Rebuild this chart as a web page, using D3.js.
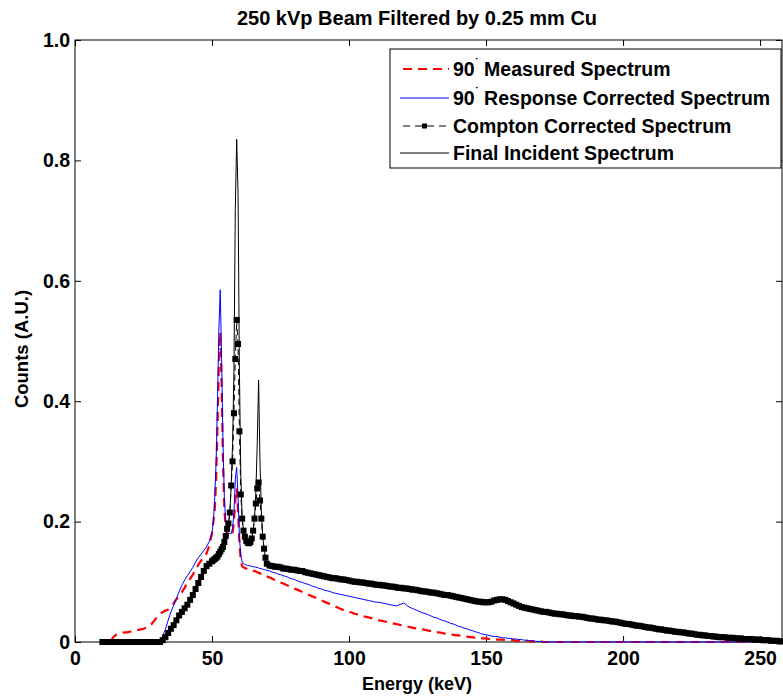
<!DOCTYPE html>
<html><head><meta charset="utf-8">
<script src="https://cdn.jsdelivr.net/npm/d3@7"></script>
<style>
html,body{margin:0;padding:0;background:#fff;}
text{font-family:"Liberation Sans",Arial,sans-serif;}
</style></head>
<body>
<svg id="chart" width="783" height="696"></svg>
<script>
// ---------------- DATA ----------------
const chartTitle = "250 kVp Beam Filtered by 0.25 mm Cu";
const xLabel = "Energy (keV)";
const yLabel = "Counts (A.U.)";
const xTicks = [0, 50, 100, 150, 200, 250];
const yTicks = [0, 0.2, 0.4, 0.6, 0.8, 1.0];
const yTickLabels = ["0", "0.2", "0.4", "0.6", "0.8", "1.0"];
const seriesNames = ["Measured Spectrum", "Response Corrected Spectrum", "Compton Corrected Spectrum", "Final Incident Spectrum"];
const seriesPrefix = ["90", "90", "", ""];

const energy = [
 10,11,12,13,14,15,16,17,18,19, 20,21,22,23,24,25,26,27,28,29, 30,31,32,33,34,35,36,37,38,39, 40,41,42,43,44,45,46,47,48,49, 50,
 50.5,51,51.5,52,52.5,53,53.5,54,54.5,55, 55.5,56,56.5,57,57.5,58,58.5,59,59.5,60, 60.5,61,61.5,62,62.5,63,63.5,64,64.5,65, 65.5,66,66.5,67,67.5,68,68.5,69,69.5,70,
 71,72,73,74,75,76,77,78,79,80, 81,82,83,84,85,86,87,88,89,90, 91,92,93,94,95,96,97,98,99,100,
 101,102,103,104,105,106,107,108,109,110, 111,112,113,114,115,116,117,118,119,120, 121,122,123,124,125,126,127,128,129,130,
 131,132,133,134,135,136,137,138,139,140, 141,142,143,144,145,146,147,148,149,150, 151,152,153,154,155,156,157,158,159,160,
 161,162,163,164,165,166,167,168,169,170, 171,172,173,174,175,176,177,178,179,180, 181,182,183,184,185,186,187,188,189,190,
 191,192,193,194,195,196,197,198,199,200, 201,202,203,204,205,206,207,208,209,210, 211,212,213,214,215,216,217,218,219,220,
 221,222,223,224,225,226,227,228,229,230, 231,232,233,234,235,236,237,238,239,240, 241,242,243,244,245,246,247,248,249,250,
 251,252,253,254,255,256,257,258
];

const measured = [
 null,null,null,0.002,0.008,0.012,0.014,0.015,0.016,0.016, 0.017,0.018,0.019,0.02,0.021,0.022,0.024,0.026,0.03,0.036,
 0.042,0.046,0.05,0.052,0.054,0.058,0.064,0.071,0.077,0.083, 0.09,0.098,0.105,0.112,0.12,0.128,0.135,0.141,0.147,0.16, 0.18,
 0.2,0.22,0.27,0.36,0.46,0.515,0.43,0.3,0.22,0.19, 0.18,0.175,0.175,0.176,0.182,0.2,0.235,0.255,0.22,0.165,
 0.135,0.126,0.124,0.123,0.122,0.121,0.12,0.12,0.119,0.118, 0.118,0.117,0.116,0.115,0.114,0.113,0.112,0.111,0.11,0.109,
 0.107,0.105,0.103,0.101,0.099,0.097,0.095,0.093,0.091,0.089, 0.087,0.085,0.083,0.081,0.079,0.077,0.075,0.073,0.071,0.069,
 0.067,0.065,0.063,0.061,0.059,0.057,0.055,0.053,0.052,0.05,
 0.049,0.047,0.046,0.045,0.043,0.042,0.041,0.04,0.038,0.037, 0.036,0.035,0.034,0.033,0.032,0.031,0.03,0.029,0.028,0.027,
 0.026,0.025,0.024,0.023,0.022,0.021,0.021,0.02,0.019,0.018,
 0.017,0.016,0.016,0.015,0.014,0.013,0.013,0.012,0.011,0.011, 0.01,0.009,0.009,0.008,0.008,0.007,0.007,0.006,0.006,0.006,
 0.005,0.005,0.005,0.004,0.004,0.004,0.003,0.003,0.003,0.003,
 0.002,0.002,0.002,0.002,0.002,0.001,0.001,0.001,0.001,0.001, 0,0,0,0,0,0,0,0,0,0, 0,0,0,0,0,0,0,0,0,0,
 0,0,0,0,0,0,0,0,0,0, 0,0,0,0,0,0,0,0,0,0, 0,0,0,0,0,0,0,0,0,0,
 0,0,0,0,0,0,0,0,0,0, 0,0,0,0,0,0,0,0,0,0, 0,0,0,0,0,0,0,0,0,0,
 0,0,0,0,0,0,0,0
];

const response = [
 0,0,0,0,0,0,0,0,0,0, 0,0,0,0,0,0,0,0,0,0,
 0,0.003,0.01,0.021,0.036,0.05,0.061,0.072,0.084,0.094, 0.103,0.11,0.117,0.124,0.133,0.14,0.146,0.152,0.158,0.167, 0.183,
 0.2,0.24,0.3,0.4,0.52,0.585,0.47,0.33,0.24,0.2, 0.187,0.182,0.18,0.18,0.188,0.215,0.27,0.29,0.24,0.175,
 0.143,0.133,0.13,0.129,0.128,0.127,0.127,0.126,0.126,0.125, 0.125,0.124,0.124,0.123,0.122,0.122,0.121,0.12,0.12,0.119,
 0.118,0.116,0.115,0.113,0.112,0.11,0.109,0.107,0.105,0.104, 0.102,0.1,0.099,0.097,0.096,0.094,0.092,0.091,0.089,0.088,
 0.086,0.085,0.084,0.082,0.081,0.08,0.079,0.078,0.077,0.076,
 0.075,0.074,0.073,0.072,0.071,0.07,0.069,0.068,0.067,0.066, 0.066,0.065,0.064,0.063,0.062,0.061,0.06,0.061,0.063,0.065,
 0.061,0.058,0.056,0.054,0.052,0.05,0.048,0.047,0.045,0.043,
 0.041,0.04,0.038,0.036,0.035,0.033,0.031,0.03,0.028,0.026, 0.025,0.023,0.022,0.02,0.019,0.017,0.016,0.014,0.013,0.012,
 0.011,0.01,0.009,0.009,0.008,0.007,0.007,0.006,0.006,0.005,
 0.005,0.004,0.004,0.003,0.003,0.002,0.002,0.001,0.001,0.001, 0,0,0,0,0,0,0,0,0,0, 0,0,0,0,0,0,0,0,0,0,
 0,0,0,0,0,0,0,0,0,0, 0,0,0,0,0,0,0,0,0,0, 0,0,0,0,0,0,0,0,0,0,
 0,0,0,0,0,0,0,0,0,0, 0,0,0,0,0,0,0,0,0,0, 0,0,0,0,0,0,0,0,0,0,
 0,0,0,0,0,0,0,0
];

const compton = [
 0,0,0,0,0,0,0,0,0,0, 0,0,0,0,0,0,0,0,0,0,
 0,0,0.003,0.008,0.015,0.022,0.028,0.036,0.044,0.05, 0.056,0.062,0.07,0.078,0.088,0.098,0.108,0.118,0.126,0.13, 0.134,
 0.136,0.138,0.14,0.142,0.146,0.15,0.154,0.158,0.166,0.176, 0.188,0.197,0.215,0.26,0.3,0.38,0.47,0.535,0.495,0.35,
 0.245,0.205,0.185,0.175,0.168,0.165,0.164,0.166,0.172,0.185, 0.205,0.23,0.255,0.265,0.235,0.205,0.175,0.155,0.14,0.13,
 0.127,0.126,0.125,0.125,0.124,0.122,0.122,0.121,0.12,0.12, 0.119,0.118,0.118,0.116,0.115,0.114,0.113,0.112,0.111,0.11,
 0.109,0.108,0.107,0.106,0.106,0.105,0.104,0.104,0.103,0.102,
 0.101,0.1,0.1,0.099,0.099,0.098,0.097,0.097,0.096,0.095, 0.095,0.094,0.094,0.093,0.092,0.092,0.091,0.09,0.09,0.089,
 0.089,0.088,0.087,0.087,0.086,0.085,0.084,0.084,0.083,0.082,
 0.082,0.081,0.08,0.079,0.078,0.078,0.077,0.076,0.075,0.074, 0.073,0.072,0.071,0.07,0.069,0.068,0.067,0.067,0.066,0.066,
 0.066,0.067,0.069,0.07,0.071,0.071,0.07,0.068,0.066,0.064,
 0.062,0.06,0.058,0.057,0.056,0.055,0.054,0.053,0.052,0.051, 0.05,0.05,0.049,0.048,0.047,0.047,0.046,0.046,0.045,0.044,
 0.044,0.043,0.043,0.042,0.042,0.041,0.04,0.039,0.039,0.038,
 0.037,0.037,0.036,0.036,0.035,0.034,0.034,0.033,0.032,0.031, 0.03,0.03,0.029,0.028,0.027,0.027,0.026,0.025,0.024,0.024,
 0.023,0.022,0.021,0.021,0.02,0.019,0.019,0.018,0.017,0.017,
 0.016,0.016,0.015,0.014,0.014,0.013,0.012,0.012,0.011,0.011, 0.01,0.01,0.009,0.009,0.008,0.008,0.008,0.007,0.007,0.007,
 0.006,0.006,0.006,0.005,0.005,0.005,0.005,0.004,0.004,0.004,
 0.003,0.003,0.003,0.002,0.002,0.002,0.001,0.001
];

// Final incident spectrum: identical to Compton corrected except at the fluorescence peaks
const finalPeakEnergy = [57.5, 58, 58.5, 59, 59.5, 60, 60.5, 66, 66.5, 67, 67.5, 68];
const finalPeakValue  = [0.33, 0.45, 0.72, 0.835, 0.745, 0.45, 0.28, 0.25, 0.33, 0.435, 0.3, 0.22];

// ---------------- CHART ----------------
(function () {
const svg = d3.select("#chart");
const mLeft = 75, mRight = 782, mTop = 40, mBottom = 642;
const x = d3.scaleLinear().domain([0, 258]).range([mLeft, mRight]);
const y = d3.scaleLinear().domain([0, 1]).range([mBottom, mTop]);

const peakMap = new Map(finalPeakEnergy.map((e, i) => [e, finalPeakValue[i]]));
const finalIncident = compton.map((v, i) => peakMap.has(energy[i]) ? peakMap.get(energy[i]) : v);

const mk = vals => energy.map((e, i) => ({e, v: vals[i]})).filter(d => d.v !== undefined);
const line = d3.line().defined(d => d.v !== null).x(d => x(d.e)).y(d => y(d.v));

// title
svg.append("text").attr("x", 417).attr("y", 25).attr("text-anchor", "middle")
  .attr("font-size", 20).attr("font-weight", "bold").text(chartTitle);

// axes frame
const g = svg.append("g");
g.append("rect").attr("x", mLeft).attr("y", mTop).attr("width", mRight - mLeft).attr("height", mBottom - mTop)
  .attr("fill", "none").attr("stroke", "#000").attr("stroke-width", 1);

const xb = d3.axisBottom(x).tickValues(xTicks).tickSize(-6).tickPadding(9).tickFormat(d3.format("d"));
const xt = d3.axisTop(x).tickValues(xTicks).tickSize(-6).tickFormat("");
const yl = d3.axisLeft(y).tickValues(yTicks).tickSize(-6).tickPadding(5).tickFormat((d, i) => yTickLabels[i]);
const yr = d3.axisRight(y).tickValues(yTicks).tickSize(-6).tickFormat("");
function styleAxis(sel) {
  sel.select(".domain").remove();
  sel.selectAll("line").attr("stroke", "#000");
  sel.selectAll("text").attr("font-size", 19.5).attr("font-weight", "bold").attr("fill", "#000")
    .attr("font-family", "Liberation Sans, Arial, sans-serif");
}
g.append("g").attr("transform", `translate(0,${mBottom})`).call(xb).call(styleAxis);
g.append("g").attr("transform", `translate(0,${mTop})`).call(xt).call(styleAxis);
g.append("g").attr("transform", `translate(${mLeft},0)`).call(yl).call(styleAxis);
g.append("g").attr("transform", `translate(${mRight},0)`).call(yr).call(styleAxis);

// axis labels
svg.append("text").attr("x", 417).attr("y", 690).attr("text-anchor", "middle")
  .attr("font-size", 18).attr("font-weight", "bold").text(xLabel);
svg.append("text").attr("transform", "translate(28,349) rotate(-90)").attr("text-anchor", "middle")
  .attr("font-size", 18.5).attr("font-weight", "bold").text(yLabel);

// series
const plot = svg.append("g");
plot.append("path").datum(mk(measured)).attr("d", line).attr("fill", "none")
  .attr("stroke", "#ff0000").attr("stroke-width", 2.2).attr("stroke-dasharray", "9,6");
plot.append("path").datum(mk(response)).attr("d", line).attr("fill", "none")
  .attr("stroke", "#0000ff").attr("stroke-width", 1);
plot.append("path").datum(mk(compton)).attr("d", line).attr("fill", "none")
  .attr("stroke", "#000").attr("stroke-width", 1).attr("stroke-dasharray", "6,4");
const ms = 6;
plot.append("g").selectAll("rect").data(mk(compton)).join("rect")
  .attr("x", d => x(d.e) - ms / 2).attr("y", d => y(d.v) - ms / 2)
  .attr("width", ms).attr("height", ms).attr("fill", "#000");
plot.append("path").datum(mk(finalIncident)).attr("d", line).attr("fill", "none")
  .attr("stroke", "#000").attr("stroke-width", 1);

// legend
const lg = svg.append("g");
lg.append("rect").attr("x", 390).attr("y", 49).attr("width", 391).attr("height", 119)
  .attr("fill", "#fff").attr("stroke", "#000").attr("stroke-width", 1);
const rowY = [69, 98, 126, 153];
const lx1 = 400, lx2 = 449, tx = 453;
lg.append("line").attr("x1", lx1 + 3).attr("x2", lx2).attr("y1", rowY[0]).attr("y2", rowY[0])
  .attr("stroke", "#ff0000").attr("stroke-width", 2.2).attr("stroke-dasharray", "9,6");
lg.append("line").attr("x1", lx1).attr("x2", lx2).attr("y1", rowY[1]).attr("y2", rowY[1])
  .attr("stroke", "#0000ff").attr("stroke-width", 1);
lg.append("line").attr("x1", lx1 + 3).attr("x2", lx2).attr("y1", rowY[2]).attr("y2", rowY[2])
  .attr("stroke", "#000").attr("stroke-width", 1).attr("stroke-dasharray", "7,5");
lg.append("rect").attr("x", (lx1 + lx2) / 2 - 2.5).attr("y", rowY[2] - 2.5).attr("width", 5).attr("height", 5).attr("fill", "#000");
lg.append("line").attr("x1", lx1).attr("x2", lx2).attr("y1", rowY[3]).attr("y2", rowY[3])
  .attr("stroke", "#000").attr("stroke-width", 1);
seriesNames.forEach((name, i) => {
  const t = lg.append("text").attr("x", tx).attr("y", rowY[i] + 7).attr("font-size", 19.5).attr("font-weight", "bold");
  if (seriesPrefix[i]) {
    t.append("tspan").text(seriesPrefix[i]);
    t.append("tspan").attr("font-size", 12).attr("dy", -9).text("\u02D9");
    t.append("tspan").attr("dy", 9).text(" " + name);
  } else {
    t.text(name);
  }
});
})();
</script>
</body></html>
